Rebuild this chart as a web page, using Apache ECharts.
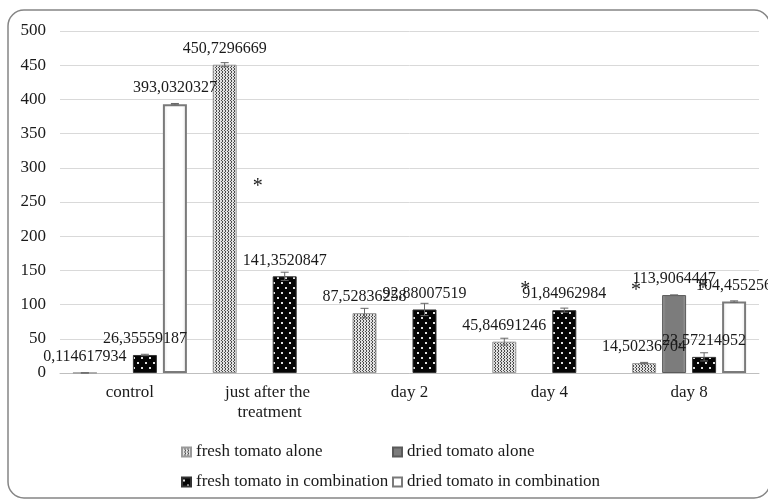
<!DOCTYPE html>
<html>
<head>
<meta charset="utf-8">
<script src="https://cdn.jsdelivr.net/npm/echarts@6/dist/echarts.min.js"></script>
<style>
  html, body { margin: 0; padding: 0; background: #fff; }
  #chart { width: 768px; height: 500px; }
</style>
</head>
<body>
<div id="chart"></div>
<script>
const categories = ['control', 'just after the treatment', 'day 2', 'day 4', 'day 8'];
const seriesNames = ['fresh tomato alone', 'dried tomato alone', 'fresh tomato in combination', 'dried tomato in combination'];

const freshAlone = [0.114617934, 450.7296669, 87.52836258, 45.84691246, 14.50236704];
const driedAlone = [null, null, null, null, 113.9064447];
const freshComb = [26.35559187, 141.3520847, 92.88007519, 91.84962984, 23.57214952];
const driedComb = [393.0320327, null, null, null, 104.455256];

const freshAloneErr = [0, 3, 7, 5, 1];
const driedAloneErr = [null, null, null, null, 0];
const freshCombErr = [1, 6, 9, 3, 6];
const driedCombErr = [1, null, null, null, 1];

// asterisks marking significance
const starCategories = [1, 3, 4, 4];
const starValues = [273, 121, 120, 123];

const yTicks = { min: 0, max: 500, interval: 50 };

const FONT = '"Liberation Serif", "Times New Roman", serif';
const chartDom = document.getElementById('chart');
const myChart = echarts.init(chartDom);

function makePattern(w, h, bg, fg, dots) {
  const c = document.createElement('canvas');
  c.width = w;
  c.height = h;
  const ctx = c.getContext('2d');
  ctx.fillStyle = bg;
  ctx.fillRect(0, 0, w, h);
  ctx.fillStyle = fg;
  dots.forEach((d) => ctx.fillRect(d[0], d[1], d[2] || 1, d[3] || 1));
  return { image: c, repeat: 'repeat' };
}

const freshAlonePattern = makePattern(3, 3, '#e2e2e2', '#4a4a4a',
  [[0, 0], [0, 2], [2, 1]]);
const freshCombPattern = makePattern(8, 10, '#050505', '#e0e0e0',
  [[1, 2, 2, 2], [5, 7, 2, 2]]);

const fmt = (v) => String(v).replace('.', ',');

const barLabel = {
  show: true,
  position: 'top',
  distance: 8,
  fontFamily: FONT,
  fontSize: 16,
  color: '#1a1a1a',
  formatter: (p) => (p.value == null ? '' : fmt(p.value)),
};

const values = [freshAlone, driedAlone, freshComb, driedComb];
const errors = [freshAloneErr, driedAloneErr, freshCombErr, driedCombErr];
const styles = [
  { color: freshAlonePattern, borderColor: '#9a9a9a', borderWidth: 1 },
  {
    color: {
      type: 'linear', x: 0, y: 0, x2: 1, y2: 0,
      colorStops: [
        { offset: 0, color: '#9a9a9a' },
        { offset: 0.15, color: '#7c7c7c' },
        { offset: 0.85, color: '#7c7c7c' },
        { offset: 1, color: '#9a9a9a' },
      ],
    },
    borderColor: '#5a5a5a', borderWidth: 1,
  },
  { color: freshCombPattern, borderColor: '#333', borderWidth: 1 },
  {
    color: {
      type: 'linear', x: 0, y: 0, x2: 1, y2: 0,
      colorStops: [
        { offset: 0, color: '#e8e8e8' },
        { offset: 0.2, color: '#ffffff' },
        { offset: 0.8, color: '#ffffff' },
        { offset: 1, color: '#e8e8e8' },
      ],
    },
    borderColor: '#7a7a7a', borderWidth: 2,
  },
];

const barSeries = seriesNames.map((name, i) => ({
  name: name,
  type: 'bar',
  data: values[i],
  barWidth: 24,
  barGap: '25%',
  itemStyle: styles[i],
  label: barLabel,
  z: 2,
}));

// error bars
let errData = [];
errors.forEach((arr, k) => {
  arr.forEach((e, ci) => {
    if (e != null && values[k][ci] != null) errData.push([ci, values[k][ci], e, k]);
  });
});

const errSeries = {
  type: 'custom',
  data: errData,
  encode: { x: 0, y: 1 },
  z: 3,
  silent: true,
  renderItem: function (params, api) {
    const ci = api.value(0), v = api.value(1), e = api.value(2), k = api.value(3);
    const top = api.coord([ci, v + e]);
    const bot = api.coord([ci, Math.max(0, v - e)]);
    const x = top[0] + (k - 1.5) * 30;
    const st = { stroke: '#666', lineWidth: 1 };
    return {
      type: 'group',
      children: [
        { type: 'line', shape: { x1: x, y1: top[1], x2: x, y2: bot[1] }, style: st },
        { type: 'line', shape: { x1: x - 4, y1: top[1], x2: x + 4, y2: top[1] }, style: st },
        { type: 'line', shape: { x1: x - 4, y1: bot[1], x2: x + 4, y2: bot[1] }, style: st },
      ],
    };
  },
};

// asterisks, drawn as text at data coordinates
const starShift = [-12, -24, -53, 14];
const starSeries = {
  type: 'custom',
  silent: true,
  z: 5,
  data: starCategories.map((c, i) => [c, starValues[i], i]),
  encode: { x: 0, y: 1 },
  renderItem: function (params, api) {
    const p = api.coord([api.value(0), api.value(1)]);
    return {
      type: 'text',
      x: p[0] + starShift[api.value(2)],
      y: p[1],
      style: {
        text: '*',
        fontFamily: FONT,
        fontSize: 20,
        fill: '#1a1a1a',
        align: 'center',
        verticalAlign: 'middle',
      },
    };
  },
};

const legendText = { fontFamily: FONT, fontSize: 17, color: '#1a1a1a', lineHeight: 18 };

let option = {
  backgroundColor: '#fff',
  animation: false,
  graphic: [
    {
      type: 'rect',
      shape: { x: 8, y: 10, width: 762, height: 488, r: 16 },
      style: { fill: 'none', stroke: '#858585', lineWidth: 1.5 },
      silent: true,
    },
  ],
  grid: { left: 60, right: 9, top: 31, bottom: 127 },
  legend: [
    {
      data: [seriesNames[0], seriesNames[2]],
      orient: 'vertical',
      left: 181,
      top: 443,
      padding: 0,
      itemGap: 12,
      itemWidth: 9,
      itemHeight: 9,
      icon: 'rect',
      textStyle: legendText,
      selectedMode: false,
    },
    {
      data: [seriesNames[1], seriesNames[3]],
      orient: 'vertical',
      left: 392,
      top: 443,
      padding: 0,
      itemGap: 12,
      itemWidth: 9,
      itemHeight: 9,
      icon: 'rect',
      textStyle: legendText,
      selectedMode: false,
    },
  ],
  xAxis: {
    type: 'category',
    data: categories,
    axisLine: { lineStyle: { color: '#bfbfbf' } },
    axisTick: { show: false },
    axisLabel: {
      fontFamily: FONT,
      fontSize: 17,
      color: '#1a1a1a',
      margin: 10,
      lineHeight: 20,
      width: 125,
      overflow: 'break',
      interval: 0,
    },
  },
  yAxis: {
    type: 'value',
    min: yTicks.min,
    max: yTicks.max,
    interval: yTicks.interval,
    axisLine: { show: false },
    axisTick: { show: false },
    splitLine: { lineStyle: { color: '#d9d9d9' } },
    axisLabel: { fontFamily: FONT, fontSize: 17, color: '#1a1a1a', margin: 14 },
  },
  series: barSeries.concat([errSeries, starSeries]),
};

option && myChart.setOption(option);
</script>
</body>
</html>
